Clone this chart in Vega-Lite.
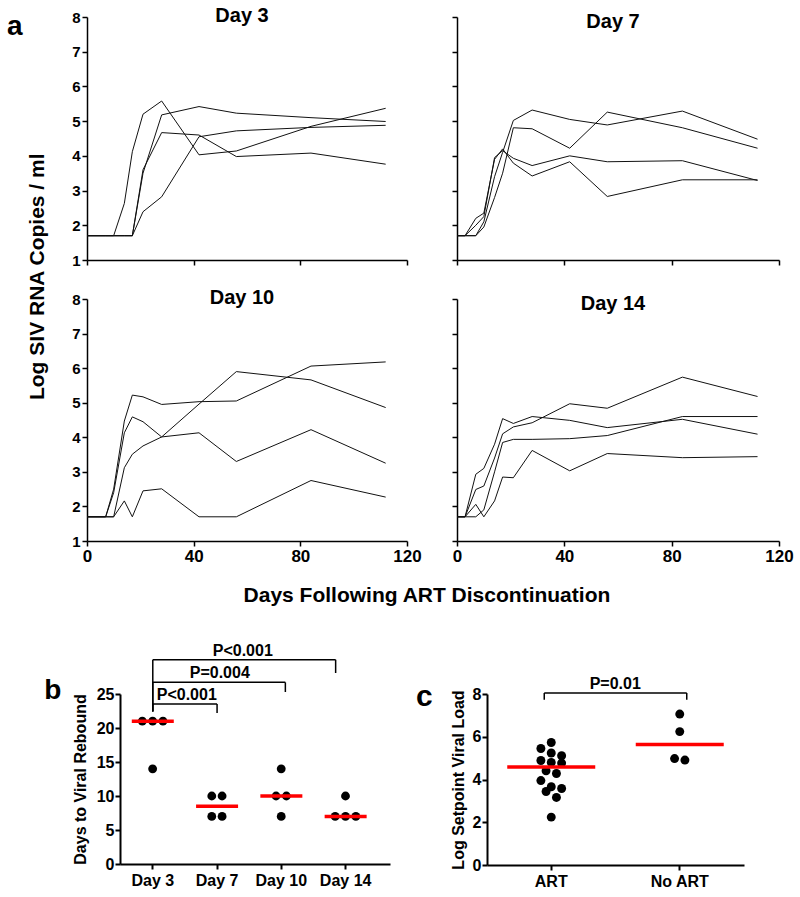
{
  "$schema": "https://vega.github.io/schema/vega-lite/v6.json",
  "background": "white",
  "padding": {"left": 7, "top": 5, "right": 5, "bottom": 5},
  "config": {
    "font": "Liberation Sans",
    "view": {"stroke": null},
    "axis": {"domainColor": "black", "tickColor": "black", "labelColor": "black", "titleColor": "black", "labelFont": "Liberation Sans", "titleFont": "Liberation Sans", "labelFontWeight": "bold", "titleFontWeight": "bold", "grid": false, "tickSize": 5, "domainWidth": 1.5, "tickWidth": 1.5, "labelFlush": false, "labelOverlap": false},
    "title": {"font": "Liberation Sans", "fontWeight": "bold", "color": "black"},
    "text": {"font": "Liberation Sans"}
  },
  "title": {"text": "a", "anchor": "start", "frame": "bounds", "orient": "top", "fontSize": 28, "offset": -35, "dx": -18},
  "datasets": {
    "viral": [
      {"g":"Day 3","id":"A","d":0,"v":1.7},{"g":"Day 3","id":"A","d":3,"v":1.7},{"g":"Day 3","id":"A","d":7,"v":1.7},{"g":"Day 3","id":"A","d":10,"v":1.7},{"g":"Day 3","id":"A","d":14,"v":2.63},{"g":"Day 3","id":"A","d":17,"v":4.12},{"g":"Day 3","id":"A","d":21,"v":5.2},{"g":"Day 3","id":"A","d":28,"v":5.58},{"g":"Day 3","id":"A","d":42,"v":4.03},{"g":"Day 3","id":"A","d":56,"v":4.14},{"g":"Day 3","id":"A","d":84,"v":4.85},{"g":"Day 3","id":"A","d":112,"v":5.37},
      {"g":"Day 3","id":"B","d":0,"v":1.7},{"g":"Day 3","id":"B","d":3,"v":1.7},{"g":"Day 3","id":"B","d":7,"v":1.7},{"g":"Day 3","id":"B","d":10,"v":1.7},{"g":"Day 3","id":"B","d":14,"v":1.7},{"g":"Day 3","id":"B","d":17,"v":1.7},{"g":"Day 3","id":"B","d":21,"v":3.5},{"g":"Day 3","id":"B","d":28,"v":5.18},{"g":"Day 3","id":"B","d":42,"v":5.42},{"g":"Day 3","id":"B","d":56,"v":5.23},{"g":"Day 3","id":"B","d":84,"v":5.1},{"g":"Day 3","id":"B","d":112,"v":4.99},
      {"g":"Day 3","id":"C","d":0,"v":1.7},{"g":"Day 3","id":"C","d":3,"v":1.7},{"g":"Day 3","id":"C","d":7,"v":1.7},{"g":"Day 3","id":"C","d":10,"v":1.7},{"g":"Day 3","id":"C","d":14,"v":1.7},{"g":"Day 3","id":"C","d":17,"v":1.7},{"g":"Day 3","id":"C","d":21,"v":3.6},{"g":"Day 3","id":"C","d":28,"v":4.67},{"g":"Day 3","id":"C","d":42,"v":4.6},{"g":"Day 3","id":"C","d":56,"v":3.98},{"g":"Day 3","id":"C","d":84,"v":4.08},{"g":"Day 3","id":"C","d":112,"v":3.76},
      {"g":"Day 3","id":"D","d":0,"v":1.7},{"g":"Day 3","id":"D","d":3,"v":1.7},{"g":"Day 3","id":"D","d":7,"v":1.7},{"g":"Day 3","id":"D","d":10,"v":1.7},{"g":"Day 3","id":"D","d":14,"v":1.7},{"g":"Day 3","id":"D","d":17,"v":1.7},{"g":"Day 3","id":"D","d":21,"v":2.39},{"g":"Day 3","id":"D","d":28,"v":2.82},{"g":"Day 3","id":"D","d":42,"v":4.55},{"g":"Day 3","id":"D","d":56,"v":4.72},{"g":"Day 3","id":"D","d":84,"v":4.82},{"g":"Day 3","id":"D","d":112,"v":4.88},
      {"g":"Day 7","id":"E","d":0,"v":1.7},{"g":"Day 7","id":"E","d":3,"v":1.7},{"g":"Day 7","id":"E","d":7,"v":1.7},{"g":"Day 7","id":"E","d":10,"v":2.1},{"g":"Day 7","id":"E","d":14,"v":3.4},{"g":"Day 7","id":"E","d":17,"v":4.1},{"g":"Day 7","id":"E","d":21,"v":5.02},{"g":"Day 7","id":"E","d":28,"v":5.32},{"g":"Day 7","id":"E","d":42,"v":5.05},{"g":"Day 7","id":"E","d":56,"v":4.89},{"g":"Day 7","id":"E","d":84,"v":5.29},{"g":"Day 7","id":"E","d":112,"v":4.48},
      {"g":"Day 7","id":"F","d":0,"v":1.7},{"g":"Day 7","id":"F","d":3,"v":1.7},{"g":"Day 7","id":"F","d":7,"v":1.7},{"g":"Day 7","id":"F","d":10,"v":1.95},{"g":"Day 7","id":"F","d":14,"v":2.8},{"g":"Day 7","id":"F","d":17,"v":3.5},{"g":"Day 7","id":"F","d":21,"v":4.81},{"g":"Day 7","id":"F","d":28,"v":4.78},{"g":"Day 7","id":"F","d":42,"v":4.22},{"g":"Day 7","id":"F","d":56,"v":5.26},{"g":"Day 7","id":"F","d":84,"v":4.81},{"g":"Day 7","id":"F","d":112,"v":4.22},
      {"g":"Day 7","id":"G","d":0,"v":1.7},{"g":"Day 7","id":"G","d":3,"v":1.7},{"g":"Day 7","id":"G","d":7,"v":2.2},{"g":"Day 7","id":"G","d":10,"v":2.35},{"g":"Day 7","id":"G","d":14,"v":3.9},{"g":"Day 7","id":"G","d":17,"v":4.2},{"g":"Day 7","id":"G","d":21,"v":3.79},{"g":"Day 7","id":"G","d":28,"v":3.42},{"g":"Day 7","id":"G","d":42,"v":3.83},{"g":"Day 7","id":"G","d":56,"v":2.83},{"g":"Day 7","id":"G","d":84,"v":3.31},{"g":"Day 7","id":"G","d":112,"v":3.31},
      {"g":"Day 7","id":"H","d":0,"v":1.7},{"g":"Day 7","id":"H","d":3,"v":1.7},{"g":"Day 7","id":"H","d":7,"v":2.0},{"g":"Day 7","id":"H","d":10,"v":2.25},{"g":"Day 7","id":"H","d":14,"v":3.95},{"g":"Day 7","id":"H","d":17,"v":4.15},{"g":"Day 7","id":"H","d":21,"v":3.93},{"g":"Day 7","id":"H","d":28,"v":3.72},{"g":"Day 7","id":"H","d":42,"v":4.0},{"g":"Day 7","id":"H","d":56,"v":3.83},{"g":"Day 7","id":"H","d":84,"v":3.86},{"g":"Day 7","id":"H","d":112,"v":3.29},
      {"g":"Day 10","id":"I","d":0,"v":1.7},{"g":"Day 10","id":"I","d":3,"v":1.7},{"g":"Day 10","id":"I","d":7,"v":1.7},{"g":"Day 10","id":"I","d":10,"v":2.5},{"g":"Day 10","id":"I","d":14,"v":4.47},{"g":"Day 10","id":"I","d":17,"v":5.22},{"g":"Day 10","id":"I","d":21,"v":5.17},{"g":"Day 10","id":"I","d":28,"v":4.95},{"g":"Day 10","id":"I","d":42,"v":5.03},{"g":"Day 10","id":"I","d":56,"v":5.05},{"g":"Day 10","id":"I","d":84,"v":6.06},{"g":"Day 10","id":"I","d":112,"v":6.18},
      {"g":"Day 10","id":"J","d":0,"v":1.7},{"g":"Day 10","id":"J","d":3,"v":1.7},{"g":"Day 10","id":"J","d":7,"v":1.7},{"g":"Day 10","id":"J","d":10,"v":2.4},{"g":"Day 10","id":"J","d":14,"v":4.13},{"g":"Day 10","id":"J","d":17,"v":4.59},{"g":"Day 10","id":"J","d":21,"v":4.45},{"g":"Day 10","id":"J","d":28,"v":4.01},{"g":"Day 10","id":"J","d":42,"v":4.96},{"g":"Day 10","id":"J","d":56,"v":5.9},{"g":"Day 10","id":"J","d":84,"v":5.66},{"g":"Day 10","id":"J","d":112,"v":4.86},
      {"g":"Day 10","id":"K","d":0,"v":1.7},{"g":"Day 10","id":"K","d":3,"v":1.7},{"g":"Day 10","id":"K","d":7,"v":1.7},{"g":"Day 10","id":"K","d":10,"v":1.7},{"g":"Day 10","id":"K","d":14,"v":3.12},{"g":"Day 10","id":"K","d":17,"v":3.51},{"g":"Day 10","id":"K","d":21,"v":3.75},{"g":"Day 10","id":"K","d":28,"v":4.01},{"g":"Day 10","id":"K","d":42,"v":4.13},{"g":"Day 10","id":"K","d":56,"v":3.3},{"g":"Day 10","id":"K","d":84,"v":4.22},{"g":"Day 10","id":"K","d":112,"v":3.25},
      {"g":"Day 10","id":"L","d":0,"v":1.7},{"g":"Day 10","id":"L","d":3,"v":1.7},{"g":"Day 10","id":"L","d":7,"v":1.7},{"g":"Day 10","id":"L","d":10,"v":1.7},{"g":"Day 10","id":"L","d":14,"v":2.16},{"g":"Day 10","id":"L","d":17,"v":1.7},{"g":"Day 10","id":"L","d":21,"v":2.45},{"g":"Day 10","id":"L","d":28,"v":2.51},{"g":"Day 10","id":"L","d":42,"v":1.7},{"g":"Day 10","id":"L","d":56,"v":1.7},{"g":"Day 10","id":"L","d":84,"v":2.75},{"g":"Day 10","id":"L","d":112,"v":2.27},
      {"g":"Day 14","id":"M","d":0,"v":1.7},{"g":"Day 14","id":"M","d":3,"v":1.7},{"g":"Day 14","id":"M","d":7,"v":2.93},{"g":"Day 14","id":"M","d":10,"v":3.1},{"g":"Day 14","id":"M","d":14,"v":3.8},{"g":"Day 14","id":"M","d":17,"v":4.54},{"g":"Day 14","id":"M","d":21,"v":4.4},{"g":"Day 14","id":"M","d":28,"v":4.6},{"g":"Day 14","id":"M","d":42,"v":4.49},{"g":"Day 14","id":"M","d":56,"v":4.28},{"g":"Day 14","id":"M","d":84,"v":4.52},{"g":"Day 14","id":"M","d":112,"v":4.09},
      {"g":"Day 14","id":"N","d":0,"v":1.7},{"g":"Day 14","id":"N","d":3,"v":1.7},{"g":"Day 14","id":"N","d":7,"v":2.49},{"g":"Day 14","id":"N","d":10,"v":2.59},{"g":"Day 14","id":"N","d":14,"v":3.4},{"g":"Day 14","id":"N","d":17,"v":4.1},{"g":"Day 14","id":"N","d":21,"v":4.3},{"g":"Day 14","id":"N","d":28,"v":4.42},{"g":"Day 14","id":"N","d":42,"v":4.97},{"g":"Day 14","id":"N","d":56,"v":4.84},{"g":"Day 14","id":"N","d":84,"v":5.74},{"g":"Day 14","id":"N","d":112,"v":5.18},
      {"g":"Day 14","id":"O","d":0,"v":1.7},{"g":"Day 14","id":"O","d":3,"v":1.7},{"g":"Day 14","id":"O","d":7,"v":2.06},{"g":"Day 14","id":"O","d":10,"v":1.7},{"g":"Day 14","id":"O","d":14,"v":2.16},{"g":"Day 14","id":"O","d":17,"v":2.85},{"g":"Day 14","id":"O","d":21,"v":2.83},{"g":"Day 14","id":"O","d":28,"v":3.62},{"g":"Day 14","id":"O","d":42,"v":3.03},{"g":"Day 14","id":"O","d":56,"v":3.53},{"g":"Day 14","id":"O","d":84,"v":3.41},{"g":"Day 14","id":"O","d":112,"v":3.44},
      {"g":"Day 14","id":"P","d":0,"v":1.7},{"g":"Day 14","id":"P","d":3,"v":1.7},{"g":"Day 14","id":"P","d":7,"v":1.7},{"g":"Day 14","id":"P","d":10,"v":1.9},{"g":"Day 14","id":"P","d":14,"v":3.0},{"g":"Day 14","id":"P","d":17,"v":3.85},{"g":"Day 14","id":"P","d":21,"v":3.94},{"g":"Day 14","id":"P","d":28,"v":3.94},{"g":"Day 14","id":"P","d":42,"v":3.96},{"g":"Day 14","id":"P","d":56,"v":4.05},{"g":"Day 14","id":"P","d":84,"v":4.6},{"g":"Day 14","id":"P","d":112,"v":4.6}
    ],
    "rebound": [
      {"group":"Day 3","value":21},{"group":"Day 3","value":21},{"group":"Day 3","value":21},{"group":"Day 3","value":14},
      {"group":"Day 7","value":10},{"group":"Day 7","value":10},{"group":"Day 7","value":7},{"group":"Day 7","value":7},
      {"group":"Day 10","value":14},{"group":"Day 10","value":10},{"group":"Day 10","value":10},{"group":"Day 10","value":7},
      {"group":"Day 14","value":10},{"group":"Day 14","value":7},{"group":"Day 14","value":7},{"group":"Day 14","value":7}
    ],
    "rebound_med": [
      {"group":"Day 3","value":21},{"group":"Day 7","value":8.5},{"group":"Day 10","value":10},{"group":"Day 14","value":7}
    ],
    "brackets_b": [
      {"from":"Day 3","to":"Day 7","y":23.53,"yr":22.21,"label":"P<0.001"},
      {"from":"Day 3","to":"Day 10","y":26.71,"yr":25.29,"label":"P=0.004"},
      {"from":"Day 3","to":"Day 14","y":30.04,"yr":28.09,"label":"P<0.001"}
    ],
    "setpoint": [
      {"group":"ART","value":5.73},{"group":"ART","value":5.45},{"group":"ART","value":5.24},{"group":"ART","value":5.11},{"group":"ART","value":4.89},{"group":"ART","value":4.8},{"group":"ART","value":4.77},{"group":"ART","value":4.41},{"group":"ART","value":4.28},{"group":"ART","value":3.95},{"group":"ART","value":3.66},{"group":"ART","value":3.58},{"group":"ART","value":3.44},{"group":"ART","value":3.16},{"group":"ART","value":2.24},
      {"group":"No ART","value":7.06},{"group":"No ART","value":6.24},{"group":"No ART","value":4.98},{"group":"No ART","value":4.91}
    ],
    "setpoint_med": [
      {"group":"ART","value":4.58},{"group":"No ART","value":5.64}
    ],
    "bracket_c": [
      {"from":"ART","to":"No ART","y":8.05,"yr":7.73,"label":"P=0.01"}
    ]
  },
  "spacing": 36,
  "vconcat": [
    {
      "spacing": 0,
      "hconcat": [
        {"width": 1, "height": 1, "data": {"values": []}, "mark": {"type": "point", "opacity": 0}},
        {
          "title": {"text": "Days Following ART Discontinuation", "orient": "bottom", "anchor": "middle", "frame": "bounds", "fontSize": 21, "offset": 21, "dx": 17},
          "vconcat": [
            {
              "title": {"text": "Log SIV RNA Copies / ml", "orient": "left", "anchor": "middle", "frame": "bounds", "fontSize": 21, "offset": 24, "dx": 8},
              "columns": 2,
              "spacing": {"row": 19, "column": 29},
              "concat": [
                {
                  "title": {"text": "Day 3", "anchor": "middle", "frame": "group", "fontSize": 20, "offset": -15.5, "dx": -5},
                  "width": 320, "height": 243,
                  "data": {"name": "viral"},
                  "transform": [{"filter": "datum.g === 'Day 3'"}],
                  "mark": {"type": "line", "color": "#111111", "strokeWidth": 1},
                  "encoding": {
                    "x": {"field": "d", "type": "quantitative", "scale": {"domain": [0, 120], "nice": false}, "axis": {"values": [0, 40, 80, 120], "labels": false, "title": null}},
                    "y": {"field": "v", "type": "quantitative", "scale": {"domain": [1, 8], "nice": false}, "axis": {"values": [1, 2, 3, 4, 5, 6, 7, 8], "title": null, "labelFontSize": 15, "labelPadding": 2}},
                    "detail": {"field": "id"}
                  }
                },
                {
                  "title": {"text": "Day 7", "anchor": "middle", "frame": "group", "fontSize": 20, "offset": -15.5, "dx": -5},
                  "width": 322, "height": 243,
                  "data": {"name": "viral"},
                  "transform": [{"filter": "datum.g === 'Day 7'"}],
                  "mark": {"type": "line", "color": "#111111", "strokeWidth": 1},
                  "encoding": {
                    "x": {"field": "d", "type": "quantitative", "scale": {"domain": [0, 120], "nice": false}, "axis": {"values": [0, 40, 80, 120], "labels": false, "title": null}},
                    "y": {"field": "v", "type": "quantitative", "scale": {"domain": [1, 8], "nice": false}, "axis": {"values": [1, 2, 3, 4, 5, 6, 7, 8], "title": null, "labels": false}},
                    "detail": {"field": "id"}
                  }
                },
                {
                  "title": {"text": "Day 10", "anchor": "middle", "frame": "group", "fontSize": 20, "offset": -15.5, "dx": -5},
                  "width": 320, "height": 242,
                  "data": {"name": "viral"},
                  "transform": [{"filter": "datum.g === 'Day 10'"}],
                  "mark": {"type": "line", "color": "#111111", "strokeWidth": 1},
                  "encoding": {
                    "x": {"field": "d", "type": "quantitative", "scale": {"domain": [0, 120], "nice": false}, "axis": {"values": [0, 40, 80, 120], "title": null, "labelFontSize": 17, "labelPadding": 2}},
                    "y": {"field": "v", "type": "quantitative", "scale": {"domain": [1, 8], "nice": false}, "axis": {"values": [1, 2, 3, 4, 5, 6, 7, 8], "title": null, "labelFontSize": 15, "labelPadding": 2}},
                    "detail": {"field": "id"}
                  }
                },
                {
                  "title": {"text": "Day 14", "anchor": "middle", "frame": "group", "fontSize": 20, "offset": -15.5, "dx": -5},
                  "width": 322, "height": 242,
                  "data": {"name": "viral"},
                  "transform": [{"filter": "datum.g === 'Day 14'"}],
                  "mark": {"type": "line", "color": "#111111", "strokeWidth": 1},
                  "encoding": {
                    "x": {"field": "d", "type": "quantitative", "scale": {"domain": [0, 120], "nice": false}, "axis": {"values": [0, 40, 80, 120], "title": null, "labelFontSize": 17, "labelPadding": 2}},
                    "y": {"field": "v", "type": "quantitative", "scale": {"domain": [1, 8], "nice": false}, "axis": {"values": [1, 2, 3, 4, 5, 6, 7, 8], "title": null, "labels": false}},
                    "detail": {"field": "id"}
                  }
                }
              ]
            }
          ]
        }
      ]
    },
    {
      "spacing": 0,
      "hconcat": [
        {"width": 19, "height": 1, "data": {"values": []}, "mark": {"type": "point", "opacity": 0}},
        {
          "spacing": 26,
          "resolve": {"scale": {"xOffset": "independent", "x": "independent", "y": "independent"}},
          "hconcat": [
            {
              "title": {"text": "b", "anchor": "start", "frame": "bounds", "fontSize": 28, "offset": -62, "dx": -28},
              "width": 270, "height": 170,
              "resolve": {"axis": {"x": "independent", "y": "independent"}},
              "layer": [
                {
                  "data": {"name": "rebound"},
                  "transform": [
                    {"bin": {"step": 0.5}, "field": "value", "as": "vb"},
                    {"window": [{"op": "row_number", "as": "rank"}], "groupby": ["group", "vb"], "sort": [{"field": "value", "order": "descending"}]},
                    {"joinaggregate": [{"op": "count", "as": "n"}], "groupby": ["group", "vb"]},
                    {"calculate": "datum.rank - (datum.n + 1) / 2", "as": "offb"}
                  ],
                  "mark": {"type": "circle", "size": 78, "color": "black", "opacity": 1},
                  "encoding": {
                    "x": {"field": "group", "type": "nominal", "scale": {"type": "band", "domain": ["Day 3", "Day 7", "Day 10", "Day 14"], "paddingInner": 0, "paddingOuter": 0.1, "align": 0.05}, "axis": {"title": null, "labelAngle": 0, "labelFontSize": 16, "labelPadding": 3, "domainWidth": 2, "tickWidth": 2}},
                    "xOffset": {"field": "offb", "type": "quantitative", "scale": {"domain": [-3.1, 3.1], "range": [0, 64]}},
                    "y": {"field": "value", "type": "quantitative", "scale": {"domain": [0, 25], "nice": false}, "axis": {"values": [0, 5, 10, 15, 20, 25], "title": "Days to Viral Rebound", "titleFontSize": 16, "titlePadding": 8, "labelFontSize": 16, "labelPadding": 1, "domainWidth": 2, "tickWidth": 2, "labelOverlap": false}}
                  }
                },
                {
                  "data": {"name": "rebound_med"},
                  "mark": {"type": "tick", "color": "#ff0000", "opacity": 1, "size": 42, "thickness": 3.5, "orient": "horizontal"},
                  "encoding": {
                    "x": {"field": "group", "type": "nominal", "axis": null},
                    "y": {"field": "value", "type": "quantitative", "axis": null}
                  }
                },
                {
                  "data": {"name": "brackets_b"},
                  "mark": {"type": "rule", "color": "black", "strokeWidth": 1.5},
                  "encoding": {
                    "x": {"field": "from", "type": "nominal", "axis": null},
                    "y": {"field": "y", "type": "quantitative", "axis": null},
                    "y2": {"datum": 22.44}
                  }
                },
                {
                  "data": {"name": "brackets_b"},
                  "transform": [{"filter": "datum.to === 'Day 7'"}],
                  "layer": [
                    {"mark": {"type": "rule", "color": "black", "strokeWidth": 1.5}, "encoding": {"x": {"field": "from", "type": "nominal", "axis": null}, "x2": {"field": "to"}, "y": {"field": "y", "type": "quantitative", "axis": null}}},
                    {"mark": {"type": "rule", "color": "black", "strokeWidth": 1.5}, "encoding": {"x": {"field": "to", "type": "nominal", "axis": null}, "y": {"field": "y", "type": "quantitative", "axis": null}, "y2": {"field": "yr"}}},
                    {"mark": {"type": "text", "fontSize": 16, "fontWeight": "bold", "baseline": "alphabetic", "dy": -4, "dx": 34, "color": "black"}, "encoding": {"x": {"field": "from", "type": "nominal", "axis": null}, "y": {"field": "y", "type": "quantitative", "axis": null}, "text": {"field": "label"}}}
                  ]
                },
                {
                  "data": {"name": "brackets_b"},
                  "transform": [{"filter": "datum.to === 'Day 10'"}],
                  "layer": [
                    {"mark": {"type": "rule", "color": "black", "strokeWidth": 1.5, "x2Offset": 4}, "encoding": {"x": {"field": "from", "type": "nominal", "axis": null}, "x2": {"field": "to"}, "y": {"field": "y", "type": "quantitative", "axis": null}}},
                    {"mark": {"type": "rule", "color": "black", "strokeWidth": 1.5, "xOffset": 4}, "encoding": {"x": {"field": "to", "type": "nominal", "axis": null}, "y": {"field": "y", "type": "quantitative", "axis": null}, "y2": {"field": "yr"}}},
                    {"mark": {"type": "text", "fontSize": 16, "fontWeight": "bold", "baseline": "alphabetic", "dy": -4, "dx": 67, "color": "black"}, "encoding": {"x": {"field": "from", "type": "nominal", "axis": null}, "y": {"field": "y", "type": "quantitative", "axis": null}, "text": {"field": "label"}}}
                  ]
                },
                {
                  "data": {"name": "brackets_b"},
                  "transform": [{"filter": "datum.to === 'Day 14'"}],
                  "layer": [
                    {"mark": {"type": "rule", "color": "black", "strokeWidth": 1.5, "x2Offset": -10}, "encoding": {"x": {"field": "from", "type": "nominal", "axis": null}, "x2": {"field": "to"}, "y": {"field": "y", "type": "quantitative", "axis": null}}},
                    {"mark": {"type": "rule", "color": "black", "strokeWidth": 1.5, "xOffset": -10}, "encoding": {"x": {"field": "to", "type": "nominal", "axis": null}, "y": {"field": "y", "type": "quantitative", "axis": null}, "y2": {"field": "yr"}}},
                    {"mark": {"type": "text", "fontSize": 16, "fontWeight": "bold", "baseline": "alphabetic", "dy": -4, "dx": 90, "color": "black"}, "encoding": {"x": {"field": "from", "type": "nominal", "axis": null}, "y": {"field": "y", "type": "quantitative", "axis": null}, "text": {"field": "label"}}}
                  ]
                }
              ]
            },
            {
              "title": {"text": "c", "anchor": "start", "frame": "bounds", "fontSize": 30, "offset": -36, "dx": -34},
              "width": 257, "height": 171,
              "resolve": {"axis": {"x": "independent", "y": "independent"}},
              "layer": [
                {
                  "data": {"name": "setpoint"},
                  "transform": [
                    {"bin": {"step": 0.5}, "field": "value", "as": "vb"},
                    {"window": [{"op": "row_number", "as": "rank"}], "groupby": ["group", "vb"], "sort": [{"field": "value", "order": "descending"}]},
                    {"joinaggregate": [{"op": "count", "as": "n"}], "groupby": ["group", "vb"]},
                    {"calculate": "datum.rank - (datum.n + 1) / 2", "as": "offc"}
                  ],
                  "mark": {"type": "circle", "size": 80, "color": "black", "opacity": 1},
                  "encoding": {
                    "x": {"field": "group", "type": "nominal", "scale": {"type": "band", "domain": ["ART", "No ART"], "paddingInner": 0, "paddingOuter": 0}, "axis": {"title": null, "labelAngle": 0, "labelFontSize": 16, "labelPadding": 3, "domainWidth": 2, "tickWidth": 2}},
                    "xOffset": {"field": "offc", "type": "quantitative", "scale": {"domain": [-6.2, 6.2], "range": [0, 128.5]}},
                    "y": {"field": "value", "type": "quantitative", "scale": {"domain": [0, 8], "nice": false}, "axis": {"values": [0, 2, 4, 6, 8], "title": "Log Setpoint Viral Load", "titleFontSize": 16, "titlePadding": 6, "labelFontSize": 16, "labelPadding": 1, "domainWidth": 2, "tickWidth": 2}}
                  }
                },
                {
                  "data": {"name": "setpoint_med"},
                  "mark": {"type": "tick", "color": "#ff0000", "opacity": 1, "size": 88, "thickness": 3.5, "orient": "horizontal"},
                  "encoding": {
                    "x": {"field": "group", "type": "nominal", "axis": null},
                    "y": {"field": "value", "type": "quantitative", "axis": null}
                  }
                },
                {
                  "data": {"name": "bracket_c"},
                  "layer": [
                    {"mark": {"type": "rule", "color": "black", "strokeWidth": 1.5, "xOffset": -7, "x2Offset": 7}, "encoding": {"x": {"field": "from", "type": "nominal", "axis": null}, "x2": {"field": "to"}, "y": {"field": "y", "type": "quantitative", "axis": null}}},
                    {"mark": {"type": "rule", "color": "black", "strokeWidth": 1.5, "xOffset": -7}, "encoding": {"x": {"field": "from", "type": "nominal", "axis": null}, "y": {"field": "y", "type": "quantitative", "axis": null}, "y2": {"field": "yr"}}},
                    {"mark": {"type": "rule", "color": "black", "strokeWidth": 1.5, "xOffset": 7}, "encoding": {"x": {"field": "to", "type": "nominal", "axis": null}, "y": {"field": "y", "type": "quantitative", "axis": null}, "y2": {"field": "yr"}}},
                    {"mark": {"type": "text", "fontSize": 16, "fontWeight": "bold", "baseline": "alphabetic", "dy": -4, "dx": 64, "color": "black"}, "encoding": {"x": {"field": "from", "type": "nominal", "axis": null}, "y": {"field": "y", "type": "quantitative", "axis": null}, "text": {"field": "label"}}}
                  ]
                }
              ]
            }
          ]
        }
      ]
    }
  ]
}
